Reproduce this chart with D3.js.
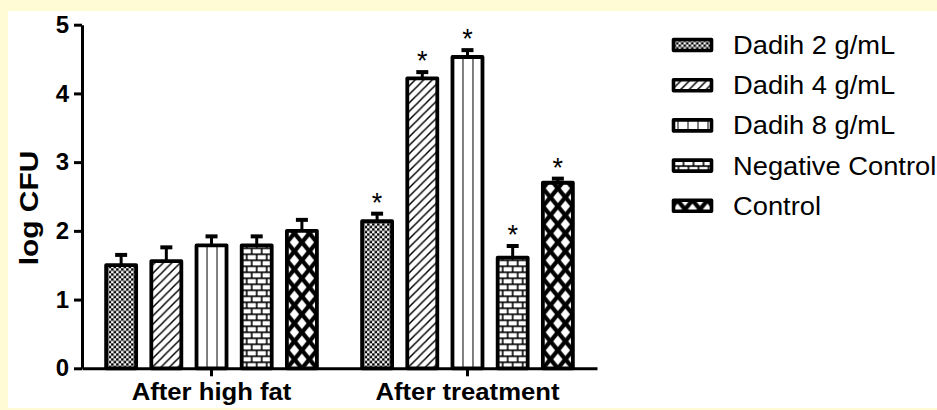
<!DOCTYPE html>
<html>
<head>
<meta charset="utf-8">
<script src="https://cdn.jsdelivr.net/npm/d3@7"></script>
<style>
  html, body { margin: 0; padding: 0; background: #fffbd5; }
  svg { display: block; }
  text { font-family: "Liberation Sans", Arial, Helvetica, sans-serif; fill: #000; }
</style>
</head>
<body>
<svg id="chart" width="937" height="410"></svg>
<script>
// Groups (x categories) and treatment series
const groups = ["After high fat", "After treatment"];
const series = ["Dadih 2 g/mL", "Dadih 4 g/mL", "Dadih 8 g/mL", "Negative Control", "Control"];
const patternKinds = ["checker", "diagonal", "vertical", "brick", "diamond"];

// Mean log CFU and SEM per series, for each group
const meanHighFat   = [1.50, 1.56, 1.79, 1.79, 2.00];
const semHighFat    = [0.15, 0.20, 0.13, 0.13, 0.16];
const meanTreatment = [2.14, 4.22, 4.53, 1.61, 2.70];
const semTreatment  = [0.11, 0.09, 0.10, 0.17, 0.06];
// Significance markers (*) per group
const sigHighFat    = [false, false, false, false, false];
const sigTreatment  = [true, true, true, true, true];

const yTicks = [0, 1, 2, 3, 4, 5];
const yLabel = "log CFU";

const data = [];
groups.forEach((g, gi) => {
  const means = gi === 0 ? meanHighFat : meanTreatment;
  const sems  = gi === 0 ? semHighFat : semTreatment;
  const sigs  = gi === 0 ? sigHighFat : sigTreatment;
  series.forEach((s, si) => data.push({ group: g, series: s, si, gi, mean: means[si], sem: sems[si], sig: sigs[si] }));
});

const svg = d3.select("#chart");
svg.append("rect").attr("width", 937).attr("height", 410).attr("fill", "#fffbd5");
svg.append("rect").attr("x", 8).attr("y", 11).attr("width", 929).attr("height", 397).attr("fill", "#ffffff");

const defs = svg.append("defs");

// Build a fill pattern anchored at (ox, oy) so that each bar's texture starts at its own edge
function makePattern(id, kind, ox, oy) {
  const p = defs.append("pattern").attr("id", id).attr("patternUnits", "userSpaceOnUse");
  if (kind === "checker") {
    const c = 2.5;
    p.attr("x", ox).attr("y", oy).attr("width", c * 2).attr("height", c * 2);
    p.append("rect").attr("width", c * 2).attr("height", c * 2).attr("fill", "#fff");
    p.append("rect").attr("width", c).attr("height", c).attr("fill", "#000");
    p.append("rect").attr("x", c).attr("y", c).attr("width", c).attr("height", c).attr("fill", "#000");
  } else if (kind === "diagonal") {
    const s = 8.5;
    p.attr("x", ox).attr("y", oy).attr("width", s).attr("height", s);
    p.append("rect").attr("width", s).attr("height", s).attr("fill", "#fff");
    p.append("path").attr("d", `M0,${s} L${s},0 M${-s / 2},${s / 2} L${s / 2},${-s / 2} M${s / 2},${s * 1.5} L${s * 1.5},${s / 2}`)
      .attr("stroke", "#000").attr("stroke-width", 1.5);
  } else if (kind === "vertical") {
    const s = 10;
    p.attr("x", ox).attr("y", oy).attr("width", s).attr("height", s);
    p.append("rect").attr("width", s).attr("height", s).attr("fill", "#fff");
    p.append("line").attr("x1", 0).attr("x2", 0).attr("y1", 0).attr("y2", s).attr("stroke", "#000").attr("stroke-width", 2);
  } else if (kind === "brick") {
    const w = 10, h = 12;
    p.attr("x", ox).attr("y", oy).attr("width", w).attr("height", h);
    p.append("rect").attr("width", w).attr("height", h).attr("fill", "#000");
    p.append("rect").attr("x", 0.8).attr("y", 0.8).attr("width", w - 1.6).attr("height", h / 2 - 1.6).attr("fill", "#fff");
    p.append("rect").attr("x", w / 2 + 0.8).attr("y", h / 2 + 0.8).attr("width", w - 1.6).attr("height", h / 2 - 1.6).attr("fill", "#fff");
    p.append("rect").attr("x", -w / 2 + 0.8).attr("y", h / 2 + 0.8).attr("width", w - 1.6).attr("height", h / 2 - 1.6).attr("fill", "#fff");
  } else if (kind === "diamond") {
    // black crosshatch with white diamond openings
    const w = 15, h = 18, dx = 4.7, dy = 5.7;
    p.attr("x", ox).attr("y", oy).attr("width", w).attr("height", h);
    p.append("rect").attr("width", w).attr("height", h).attr("fill", "#000");
    const centers = [[w / 2, 0], [w / 2, h], [0, h / 2], [w, h / 2]];
    centers.forEach(([cx, cy]) => {
      p.append("path").attr("d", `M${cx},${cy - dy} L${cx + dx},${cy} L${cx},${cy + dy} L${cx - dx},${cy} Z`).attr("fill", "#fff");
    });
  }
}

// Scales
const x0 = d3.scaleBand().domain(groups).range([82, 597]).paddingInner(0).paddingOuter(0.006);
const x1 = d3.scaleBand().domain(series).range([0, x0.bandwidth()]).paddingInner(0.336).paddingOuter(0.5);
const y = d3.scaleLinear().domain([0, 5]).range([368.3, 24.7]);

// Per-bar positions and pattern fills
const bw = x1.bandwidth();
data.forEach(d => {
  const bx = x0(d.group) + x1(d.series);
  const id = `fill-${d.gi}-${d.si}`;
  const kind = patternKinds[d.si];
  const ox = kind === "vertical" ? bx + bw / 2 - 5 : kind === "diamond" ? bx + bw / 2 - 15 : bx;
  makePattern(id, kind, ox, y(0));
  d.bx = bx;
  d.pid = id;
});

// Error bars (upper whisker only)
const errG = svg.append("g");
errG.selectAll("line.stem").data(data).join("line")
  .attr("x1", d => d.bx + bw / 2).attr("x2", d => d.bx + bw / 2)
  .attr("y1", d => y(d.mean)).attr("y2", d => y(d.mean + d.sem))
  .attr("stroke", "#000").attr("stroke-width", 3);
errG.selectAll("line.cap").data(data).join("line")
  .attr("x1", d => d.bx + bw / 2 - 6).attr("x2", d => d.bx + bw / 2 + 6)
  .attr("y1", d => y(d.mean + d.sem)).attr("y2", d => y(d.mean + d.sem))
  .attr("stroke", "#000").attr("stroke-width", 4);

// Bars
svg.append("g").selectAll("rect").data(data).join("rect")
  .attr("x", d => d.bx).attr("width", bw)
  .attr("y", d => y(d.mean)).attr("height", d => y(0) - y(d.mean))
  .attr("fill", d => `url(#${d.pid})`)
  .attr("stroke", "#000").attr("stroke-width", 3.8).attr("stroke-linejoin", "round");

// Significance asterisks
svg.append("g").selectAll("text").data(data.filter(d => d.sig)).join("text")
  .attr("x", d => d.bx + bw / 2).attr("y", d => y(d.mean + d.sem) - 2)
  .attr("text-anchor", "middle").attr("font-size", 27).text("*");

// Axes
const yAxis = svg.append("g").attr("transform", "translate(82,0)")
  .call(d3.axisLeft(y).tickValues(yTicks).tickSize(8).tickSizeOuter(0).tickPadding(5).tickFormat(d3.format("d")));
yAxis.select(".domain").attr("stroke-width", 3).attr("stroke", "#000");
yAxis.selectAll(".tick line").attr("stroke-width", 3).attr("stroke", "#000");
yAxis.selectAll(".tick text").attr("font-size", 24).attr("font-weight", "bold")
  .attr("font-family", "'Liberation Sans', Arial, sans-serif");

const xAxis = svg.append("g").attr("transform", `translate(0,${y(0)})`)
  .call(d3.axisBottom(x0).tickSize(8).tickSizeOuter(0).tickPadding(7));
xAxis.select(".domain").attr("stroke-width", 3).attr("stroke", "#000");
xAxis.selectAll(".tick line").attr("stroke-width", 3).attr("stroke", "#000");
xAxis.selectAll(".tick text").attr("font-size", 24).attr("font-weight", "bold")
  .attr("font-family", "'Liberation Sans', Arial, sans-serif")
  .attr("transform", "scale(1.07,1)");

// Y axis title
svg.append("text")
  .attr("transform", "translate(38,208) rotate(-90) scale(1.15,1)")
  .attr("text-anchor", "middle").attr("font-size", 26).attr("font-weight", "bold")
  .text(yLabel);

// Legend
const legend = svg.append("g");
series.forEach((s, i) => {
  const cy = 45 + i * 40.2;
  const sx = 673.5, sw = 38, sh = 11;
  const kind = patternKinds[i];
  const ox = kind === "vertical" ? sx + sw / 2 - 5 : kind === "diamond" ? sx + sw / 2 - 15 : sx;
  makePattern(`leg-${i}`, kind, ox, cy - sh / 2);
  legend.append("rect").attr("x", sx).attr("y", cy - sh / 2).attr("width", sw).attr("height", sh)
    .attr("fill", `url(#leg-${i})`).attr("stroke", "#000").attr("stroke-width", 3.6).attr("stroke-linejoin", "round");
  legend.append("text")
    .attr("transform", `translate(733,${cy + 9}) scale(1.05,1)`)
    .attr("font-size", 26).text(s);
});
</script>
</body>
</html>
